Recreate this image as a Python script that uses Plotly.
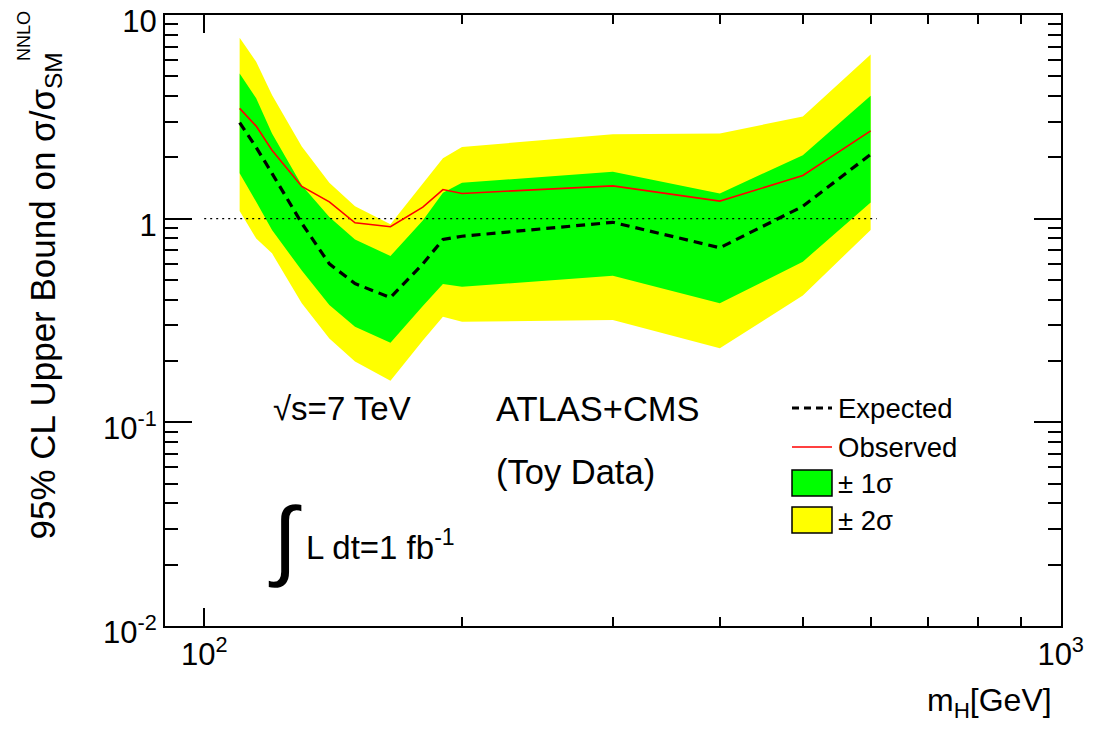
import math
import plotly.graph_objects as go

# ---------------- data ----------------
mass = [110, 115, 120, 130, 140, 150, 165, 180, 190, 200, 300, 400, 500, 600]
observed = [3.48, 2.85, 2.17, 1.44, 1.21, 0.955, 0.913, 1.14, 1.39, 1.33, 1.45, 1.22, 1.63, 2.70]
expected = [2.96, 2.24, 1.67, 0.95, 0.60, 0.48, 0.41, 0.60, 0.79, 0.82, 0.96, 0.72, 1.15, 2.07]
one_sigma_up = [5.17, 3.90, 2.62, 1.46, 1.02, 0.79, 0.656, 0.98, 1.34, 1.50, 1.70, 1.33, 2.05, 4.02]
one_sigma_dn = [1.67, 1.21, 0.88, 0.556, 0.377, 0.295, 0.246, 0.373, 0.478, 0.463, 0.525, 0.384, 0.615, 1.20]
two_sigma_up = [7.74, 5.90, 4.05, 2.26, 1.50, 1.15, 0.94, 1.49, 1.98, 2.25, 2.60, 2.62, 3.18, 6.41]
two_sigma_dn = [1.09, 0.80, 0.676, 0.384, 0.258, 0.199, 0.16, 0.252, 0.33, 0.312, 0.318, 0.231, 0.42, 0.88]
ref_line_x = [100, 610]
ref_line_y = [1, 1]

x_major = [100, 1000]
x_major_text = ["10<sup>2</sup>", "10<sup>3</sup>"]
x_minor = [200, 300, 400, 500, 600, 700, 800, 900]
y_major = [0.01, 0.1, 1, 10]
y_major_text = ["10<sup>-2</sup>", "10<sup>-1</sup>", "1", "10"]
y_minor = [k * 10.0 ** e for e in (-2, -1, 0) for k in range(2, 10)]

# ---------------- style ----------------
FONT = "Liberation Sans, Arial, Helvetica, sans-serif"
W, H = 1096, 733
OFF = 8  # page body margin of the browser
# plot frame in screen pixels
SX0, SX1, SY0, SY1 = 165, 1061, 15, 626
L, T = SX0 - OFF, SY0 - OFF
R, B = W - (SX1 - OFF), H - (SY1 - OFF)
PW, PH = SX1 - SX0, SY1 - SY0
EPS = 0.0004


def px(xs):
    return (xs - SX0) / PW


def py(ys):
    return (SY1 - ys) / PH


fig = go.Figure()

# 2 sigma band
fig.add_trace(go.Scatter(
    x=mass + mass[::-1], y=two_sigma_up + two_sigma_dn[::-1],
    fill="toself", fillcolor="#ffff00", line=dict(width=0), mode="lines",
    showlegend=False, hoverinfo="skip"))
# 1 sigma band
fig.add_trace(go.Scatter(
    x=mass + mass[::-1], y=one_sigma_up + one_sigma_dn[::-1],
    fill="toself", fillcolor="#00ff00", line=dict(width=0), mode="lines",
    showlegend=False, hoverinfo="skip"))
# reference line at 1
fig.add_trace(go.Scatter(
    x=ref_line_x, y=ref_line_y, mode="lines",
    line=dict(color="black", width=1.3, dash="2px,4px"), showlegend=False))
# expected
fig.add_trace(go.Scatter(
    x=mass, y=expected, mode="lines",
    line=dict(color="black", width=3.2, dash="9px,6px"), showlegend=False))
# observed
fig.add_trace(go.Scatter(
    x=mass, y=observed, mode="lines",
    line=dict(color="#ff0000", width=1.6), showlegend=False))

axis_common = dict(
    showline=True, linecolor="black", linewidth=2, mirror="ticks",
    ticks="inside", tickcolor="black", tickwidth=1.5,
    showgrid=False, zeroline=False, automargin=False,
    ticklabeloverflow="allow",
    tickfont=dict(family=FONT, size=31, color="black"),
)

fig.update_xaxes(
    type="log", range=[math.log10(90), 3 + EPS],
    tickmode="array", tickvals=x_major, ticktext=x_major_text,
    ticklen=18,
    minor=dict(tickmode="array", tickvals=x_minor, ticks="inside", ticklen=9,
               tickcolor="black", tickwidth=1.5, showgrid=False),
    **axis_common)
fig.update_yaxes(
    type="log", range=[-2 - EPS, 1 + EPS],
    tickmode="array", tickvals=y_major, ticktext=y_major_text,
    ticklen=27, ticklabelshift=6,
    minor=dict(tickmode="array", tickvals=y_minor, ticks="inside", ticklen=13,
               tickcolor="black", tickwidth=1.5, showgrid=False),
    **axis_common)

ann = []


def text(t, x, y, size, xanchor="left", yanchor="middle", angle=0):
    ann.append(dict(text=t, x=px(x), y=py(y), xref="paper", yref="paper",
                    xanchor=xanchor, yanchor=yanchor, showarrow=False,
                    textangle=angle,
                    font=dict(family=FONT, size=size, color="black")))


# axis titles
text("95% CL Upper Bound on σ/σ<sub>SM</sub>", 44, 542, 35,
     xanchor="center", yanchor="bottom", angle=-90)
text("NNLO", 24, 36, 18, xanchor="center", yanchor="middle", angle=-90)
text("m<sub>H</sub>[GeV]", 1054, 703, 32, xanchor="right")

# labels in plot
text("√s=7 TeV", 271, 408, 33)
text("ATLAS+CMS", 494, 409, 34.5)
text("(Toy Data)", 494, 472, 34.5)
text("∫", 266, 538, 88)
text("L dt=1 fb<sup>-1</sup>", 304, 545, 33)

# manual legend
leg_x0, leg_x1 = 792, 832
rows = [("Expected", 408), ("Observed", 447), ("± 1σ", 483), ("± 2σ", 520)]
shapes = [
    dict(type="line", xref="paper", yref="paper", x0=px(leg_x0), x1=px(leg_x1),
         y0=py(408), y1=py(408), line=dict(color="black", width=3.2, dash="7px,5px")),
    dict(type="line", xref="paper", yref="paper", x0=px(leg_x0), x1=px(leg_x1),
         y0=py(447), y1=py(447), line=dict(color="#ff0000", width=1.6)),
    dict(type="rect", xref="paper", yref="paper", x0=px(leg_x0), x1=px(leg_x1),
         y0=py(470), y1=py(496), fillcolor="#00ff00", line=dict(color="black", width=1.5)),
    dict(type="rect", xref="paper", yref="paper", x0=px(leg_x0), x1=px(leg_x1),
         y0=py(507), y1=py(533), fillcolor="#ffff00", line=dict(color="black", width=1.5)),
]
for label, yy in rows:
    text(label, 836, yy, 27.5)

fig.update_layout(
    width=W, height=H,
    margin=dict(l=L, r=R, t=T, b=B, pad=0, autoexpand=False),
    paper_bgcolor="white", plot_bgcolor="white",
    showlegend=False,
    annotations=ann, shapes=shapes,
    font=dict(family=FONT, color="black"),
)

fig.write_html("out.html")
